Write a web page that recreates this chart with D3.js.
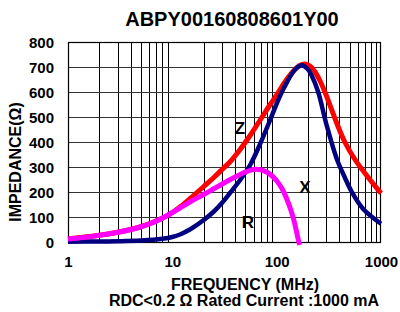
<!DOCTYPE html>
<html><head><meta charset="utf-8">
<script src="https://cdn.jsdelivr.net/npm/d3@7"></script>
<style>body{margin:0;background:#fff}svg{display:block}text{font-family:"Liberation Sans",Arial,sans-serif;font-weight:bold;fill:#000}</style>
</head><body><svg id="c" width="400" height="312"></svg>
<script>
const title = "ABPY00160808601Y00";
const xTicks = [1, 10, 100, 1000];
const yTicks = [0, 100, 200, 300, 400, 500, 600, 700, 800];
const freqZ = [1,2,3,5,8,10,12,15,20,25,30,36,45,56,70,86,100,120,144,165,187,210,230,260,290,377,450,563,755,1000];
const valZ  = [12,27,39,61,95,118,142,176,222,258,290,322,372,428,490,548,588,640,683,705,712,703,684,645,600,475,400,330,258,195];
const freqX = [1,2,3,5,8,10,12,15,20,25,30,36,45,56,69,86,100,116,150,174,200,216,250,300,377,450,525,675,1000];
const valX  = [1,2,3,6,13,20,31,52,88,122,157,198,250,310,390,485,553,612,690,707,690,667,600,470,332,258,200,132,73];
const freqR = [1,1.5,2,3,4,5,6,8,10,12,15,20,25,30,36,41,50,60,70,80,90,100,112,125,140,150,160,166];
const valR  = [12,19,27,39,50,61,72,95,118,138,162,190,213,232,250,262,280,290,289,280,265,245,215,172,115,68,15,-12];
const seriesNames = ["Z", "X", "R"];
const colors = ["#ff0000", "#000080", "#ff00ff"];

const svg = d3.select("#c");
const L = 68, R = 381, T = 42, B = 242;
const x = d3.scaleLog().domain([1, 1000]).range([L, R]);
const y = d3.scaleLinear().domain([0, 800]).range([B, T]);

// grid
const minor = [];
for (let d = 1; d < 1000; d *= 10) for (let k = 2; k <= 9; k++) minor.push(d * k);
svg.append("g").selectAll("line").data(minor).join("line")
  .attr("x1", d => Math.round(x(d)) + 0.5).attr("x2", d => Math.round(x(d)) + 0.5)
  .attr("y1", T).attr("y2", B).attr("stroke", "#000").attr("stroke-width", 1);
svg.append("g").selectAll("line").data(yTicks.slice(1, -1)).join("line")
  .attr("x1", L).attr("x2", R)
  .attr("y1", d => Math.round(y(d)) + 0.5).attr("y2", d => Math.round(y(d)) + 0.5)
  .attr("stroke", "#333").attr("stroke-width", 1);
svg.append("rect").attr("x", L + 0.5).attr("y", T + 0.5).attr("width", R - L - 1).attr("height", B - T)
  .attr("fill", "none").attr("stroke", "#000").attr("stroke-width", 1.2);

// axes labels via d3 axes (no domain / tick lines)
const yAx = svg.append("g").attr("transform", `translate(${L},0)`)
  .call(d3.axisLeft(y).tickValues(yTicks).tickSize(0).tickPadding(14).tickFormat(d3.format("d")));
yAx.select(".domain").remove();
yAx.selectAll("text").attr("font-size", 15).attr("font-family", null).attr("dy", "0.36em");
const xAx = svg.append("g").attr("transform", `translate(0,${B})`)
  .call(d3.axisBottom(x).tickValues(xTicks).tickSize(0).tickPadding(14).tickFormat(d3.format("d")));
xAx.select(".domain").remove();
xAx.selectAll("text").attr("font-size", 15).attr("font-family", null).attr("dy", "0.71em");

// curves
const line = d3.line().x(d => x(d[0])).y(d => y(d[1])).curve(d3.curveCatmullRom.alpha(0.5));
const sets = [[freqZ, valZ], [freqX, valX], [freqR, valR]];
sets.forEach((s, i) => {
  svg.append("path").datum(s[0].map((f, j) => [f, s[1][j]]))
    .attr("d", line).attr("fill", "none").attr("stroke", colors[i])
    .attr("stroke-width", i === 1 ? 4.5 : 5).attr("stroke-linejoin", "round");
});

// series labels
const labelPos = [[44.5, 456], [187, 220], [53, 80]];
seriesNames.forEach((n, i) => {
  svg.append("text").attr("x", x(labelPos[i][0])).attr("y", y(labelPos[i][1]))
    .attr("text-anchor", "middle").attr("dy", "0.36em").attr("font-size", 17).text(n);
});

svg.append("text").attr("x", 232).attr("y", 26).attr("text-anchor", "middle").attr("font-size", 20).text(title);
svg.append("text").attr("transform", "translate(21,162) rotate(-90)").attr("text-anchor", "middle")
  .attr("font-size", 16).text("IMPEDANCE(Ω)");
svg.append("text").attr("x", 245).attr("y", 290).attr("text-anchor", "middle").attr("font-size", 16).text("FREQUENCY (MHz)");
svg.append("text").attr("x", 244).attr("y", 306).attr("text-anchor", "middle").attr("font-size", 16).text("RDC<0.2 Ω Rated Current :1000 mA");
</script></body></html>
